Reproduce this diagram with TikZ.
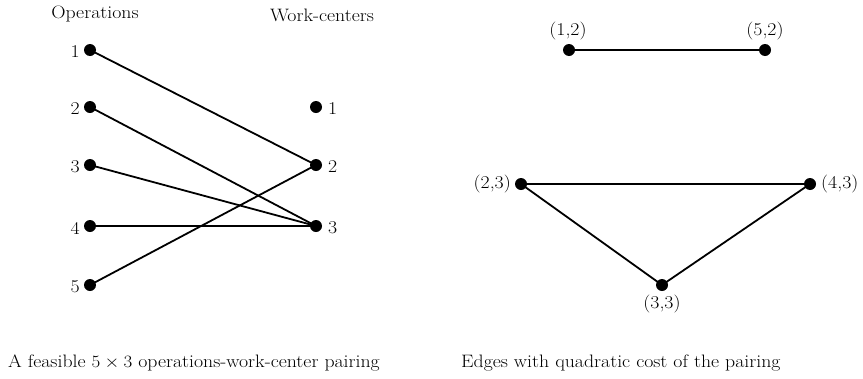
\documentclass[tikz,border=0pt]{standalone}
\usepackage{graphicx}
\newcommand{\wtx}[1]{\scalebox{1.1}[1]{#1}}
\begin{document}
\begin{tikzpicture}[x=1pt,y=-1pt,
  dot/.style={circle,fill=black,inner sep=0pt,minimum size=12pt},
  edge/.style={line width=1.8pt},
  lbl/.style={font=\fontsize{18}{21}\selectfont,inner sep=0pt}]
\useasboundingbox (0,0) rectangle (863,378);
% left graph
\node[lbl,anchor=base] (hop) at (95,18) {\wtx{Operations}};
\node[lbl,anchor=base] (hwc) at (322,21) {\wtx{Work-centers}};
\foreach \i/\y in {1/50,2/107,3/165,4/226,5/285}{
  \node[dot] (o\i) at (90,\y) {};
  \node[lbl,anchor=east] (ol\i) at (80,\y+2) {\wtx{\i}};
}
\foreach \i/\y in {1/107,2/165,3/226}{
  \node[dot] (w\i) at (316,\y) {};
  \node[lbl,anchor=west] (wl\i) at (328,\y+2) {\wtx{\i}};
}
\draw[edge] (o1.center) -- (w2.center);
\draw[edge] (o2.center) -- (w3.center);
\draw[edge] (o3.center) -- (w3.center);
\draw[edge] (o4.center) -- (w3.center);
\draw[edge] (o5.center) -- (w2.center);
% right graph
\node[dot] (p12) at (569,50) {};
\node[dot] (p52) at (765,50) {};
\node[dot] (p23) at (521,184) {};
\node[dot] (p43) at (810,184) {};
\node[dot] (p33) at (662,285) {};
\node[lbl] (l12) at (568,31) {\wtx{(1,2)}};
\node[lbl] (l52) at (765,31) {\wtx{(5,2)}};
\node[lbl,anchor=east] (l23) at (511,184) {\wtx{(2,3)}};
\node[lbl,anchor=west] (l43) at (821,184) {\wtx{(4,3)}};
\node[lbl] (l33) at (662,304) {\wtx{(3,3)}};
\draw[edge] (p12.center) -- (p52.center);
\draw[edge] (p23.center) -- (p43.center);
\draw[edge] (p23.center) -- (p33.center);
\draw[edge] (p33.center) -- (p43.center);
% captions
\node[lbl,anchor=base west] (c1) at (8,367) {\wtx{A feasible $5\times3$ operations-work-center pairing}};
\node[lbl,anchor=base west] (c2) at (461,367) {\wtx{Edges with quadratic cost of the pairing}};
\end{tikzpicture}
\end{document}
